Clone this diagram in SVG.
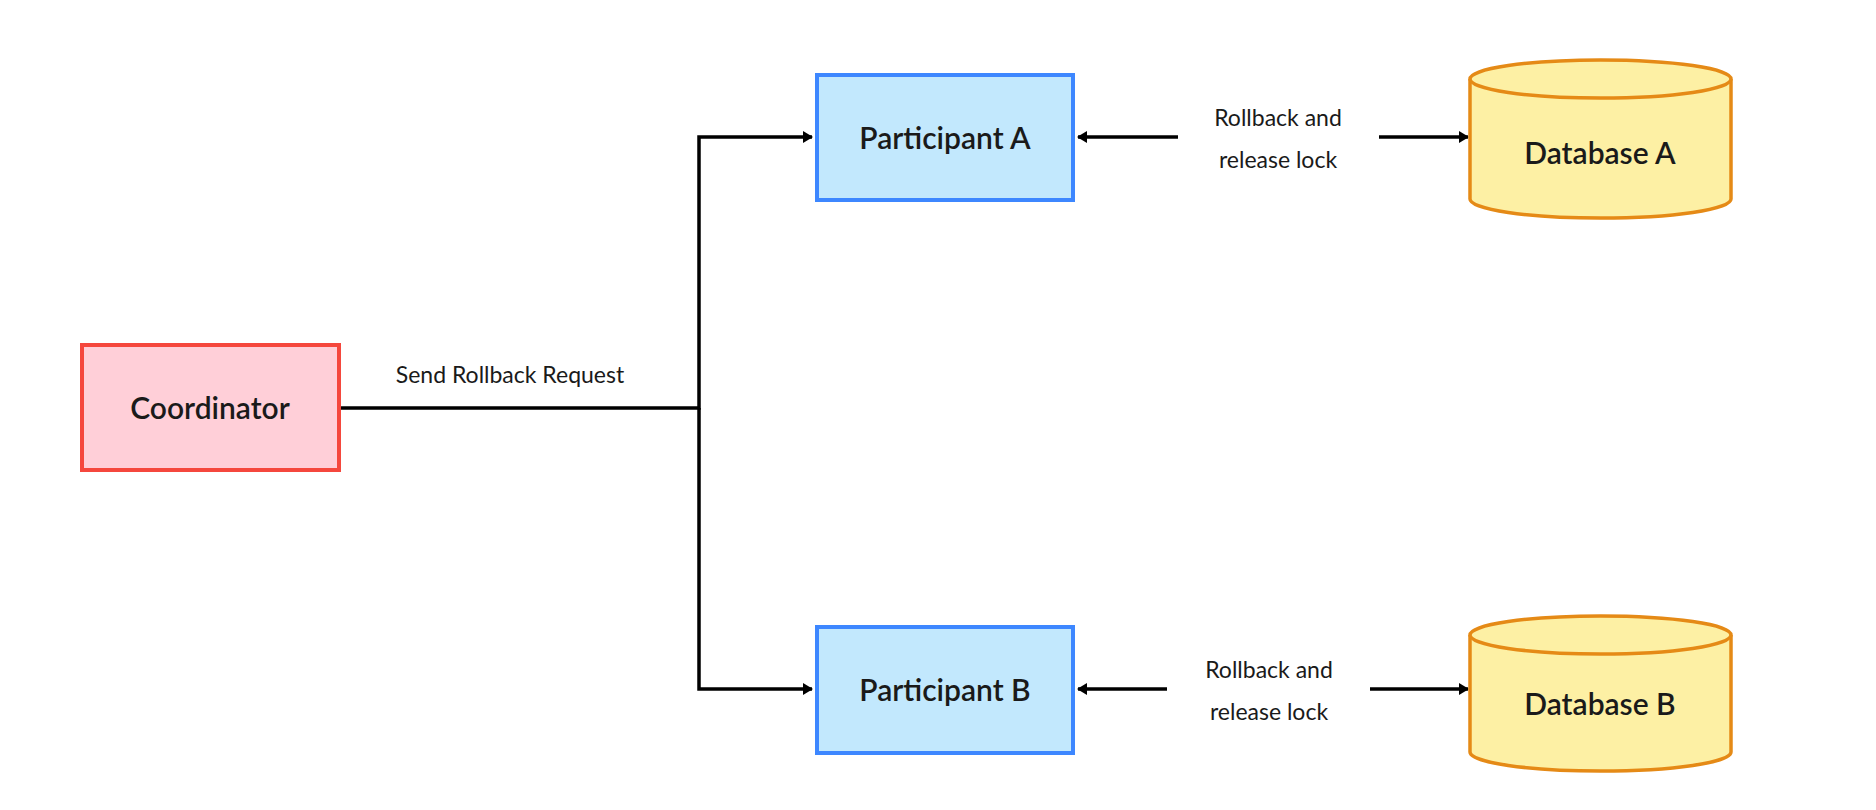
<svg xmlns="http://www.w3.org/2000/svg" width="1876" height="810" viewBox="0 0 1876 810">
<style>
text{font-family:Lato,"Liberation Sans",sans-serif;fill:#1a1a1a}
.n{font-size:30px;font-weight:600;text-anchor:middle;dominant-baseline:central}
.l{font-size:23px;text-anchor:middle;dominant-baseline:central}
.e{stroke:#000;stroke-width:3.5;fill:none}
.p{fill:#c2e8fd;stroke:#3d87ff;stroke-width:4}
.db{fill:#fdf0a4;stroke:#e58a16;stroke-width:3.5}
</style>
<defs><marker id="a" markerWidth="10" markerHeight="12" refX="9" refY="6" orient="auto" markerUnits="userSpaceOnUse"><path d="M0,0L10,6L0,12Z" fill="#000"/></marker></defs>
<rect width="1876" height="810" fill="#fff"/>
<g id="connectors">
<path class="e" d="M339,408H699V137H812" marker-end="url(#a)"/>
<path class="e" d="M699,408V689H812" marker-end="url(#a)"/>
<path class="e" d="M1178,137H1078" marker-end="url(#a)"/>
<path class="e" d="M1379,137H1468" marker-end="url(#a)"/>
<path class="e" d="M1167,689H1078" marker-end="url(#a)"/>
<path class="e" d="M1370,689H1468" marker-end="url(#a)"/>
<text class="l" x="510" y="374">Send Rollback Request</text>
<text class="l" x="1278" y="117">Rollback and</text>
<text class="l" x="1278" y="159">release lock</text>
<text class="l" x="1269" y="669">Rollback and</text>
<text class="l" x="1269" y="711">release lock</text>
</g>
<g id="coordinator"><rect x="82" y="345" width="257" height="125" fill="#ffcfd8" stroke="#f5473d" stroke-width="4"/><text class="n" x="210" y="407">Coordinator</text></g>
<g id="participantA"><rect class="p" x="817" y="75" width="256" height="125"/><text class="n" x="945" y="137">Participant A</text></g>
<g id="participantB"><rect class="p" x="817" y="627" width="256" height="126"/><text class="n" x="945" y="689">Participant B</text></g>
<g id="databaseA"><path class="db" d="M1470,79V199A130.5,19,0,0,0,1731,199V79"/><ellipse class="db" cx="1600.5" cy="79" rx="130.5" ry="19"/><text class="n" x="1600" y="152">Database A</text></g>
<g id="databaseB"><path class="db" d="M1470,635V752A130.5,19,0,0,0,1731,752V635"/><ellipse class="db" cx="1600.5" cy="635" rx="130.5" ry="19"/><text class="n" x="1600" y="703">Database B</text></g>
</svg>
